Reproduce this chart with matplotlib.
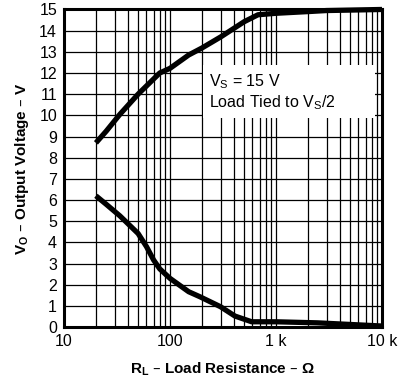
import matplotlib
matplotlib.use("Agg")
import matplotlib.pyplot as plt
from matplotlib.patches import Rectangle
from matplotlib.ticker import FixedLocator, FixedFormatter, LogLocator, NullFormatter

plt.rcParams['font.family'] = ['Liberation Sans', 'DejaVu Sans']

# Data
r_high = [20, 25, 33.7, 50, 80, 100, 150, 200, 300, 500, 676, 1000, 2000, 3000, 10000]
v_high = [8.7, 9.25, 10.05, 11.0, 12.0, 12.22, 12.85, 13.18, 13.7, 14.42, 14.75, 14.82, 14.9, 14.95, 15.0]

r_low = [20, 25, 33.7, 50, 60, 70, 80, 100, 150, 192, 300, 410, 590, 1000, 2450, 10000]
v_low = [6.2, 5.8, 5.25, 4.42, 3.8, 3.17, 2.75, 2.3, 1.67, 1.43, 0.96, 0.52, 0.25, 0.25, 0.2, 0.05]

x_ticks = [10, 100, 1000, 10000]
x_ticklabels = ["10", "100", "1 k", "10 k"]
y_ticks = list(range(0, 16))

fig = plt.figure(figsize=(4.0, 3.79), dpi=100)
ax = fig.add_axes([0.16, 0.137, 0.795, 0.838])

ax.set_xscale('log')
ax.set_xlim(10, 10000)
ax.set_ylim(0, 15)

ax.xaxis.set_major_locator(FixedLocator(x_ticks))
ax.xaxis.set_major_formatter(FixedFormatter(x_ticklabels))
ax.xaxis.set_minor_locator(LogLocator(base=10, subs=range(2, 10)))
ax.xaxis.set_minor_formatter(NullFormatter())
ax.set_yticks(y_ticks)

ax.grid(True, which='both', axis='x', color='black', linewidth=0.9, zorder=1)
ax.grid(True, which='major', axis='y', color='black', linewidth=0.9, zorder=1)

ax.tick_params(which='both', length=0, labelsize=11.5, pad=5, colors='black')

for s in ax.spines.values():
    s.set_linewidth(2.2)

ax.plot(r_high, v_high, color='black', linewidth=3.8, solid_capstyle='butt', zorder=5, clip_on=False)
ax.plot(r_low, v_low, color='black', linewidth=3.8, solid_capstyle='butt', zorder=5, clip_on=False)

# white annotation box covering grid
ax.add_patch(Rectangle((205, 9.87), 8590 - 205, 12.38 - 9.87, facecolor='white',
                       edgecolor='none', zorder=3))
ax.text(232, 11.6, r"V$_\mathregular{S}$ = 15 V", fontsize=11.5, va='center', ha='left', zorder=4)
ax.text(232, 10.62, r"Load Tied to V$_\mathregular{S}$/2", fontsize=11.5, va='center', ha='left', zorder=4)

ax.set_xlabel(r"R$_\mathregular{L}$ – Load Resistance – Ω", fontsize=11, fontweight='bold', labelpad=8)
ax.set_ylabel(r"V$_\mathregular{O}$ – Output Voltage – V", fontsize=11, fontweight='bold', labelpad=6)

fig.savefig("out.png", dpi=100)
